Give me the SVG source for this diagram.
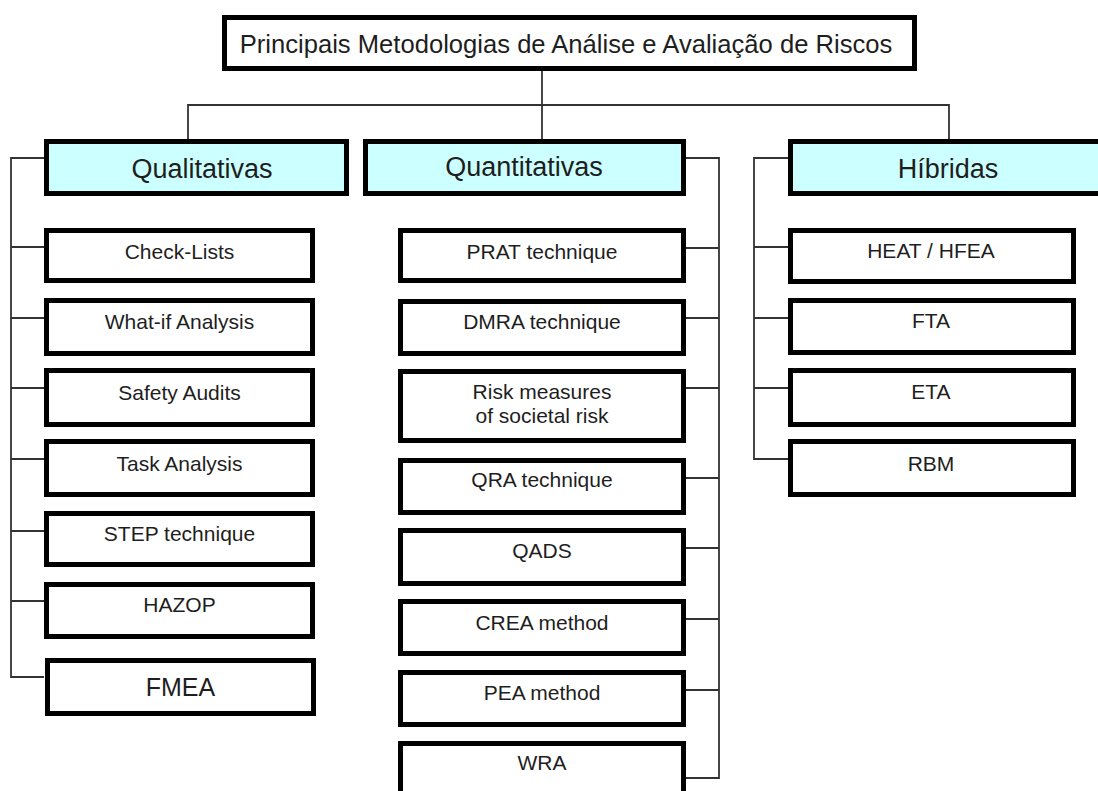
<svg xmlns="http://www.w3.org/2000/svg" width="1098" height="791" viewBox="0 0 1098 791">
<style>
.box{fill:#ffffff;stroke:#000000;stroke-width:5}
.hdr{fill:#ccffff;stroke:#000000;stroke-width:5}
.t{font-family:"Liberation Sans",Arial,sans-serif;fill:#1e1e1e;text-anchor:middle}
.title{font-size:25.6px}
.h{font-size:27px}
.c{font-size:21px}
.big{font-size:25px}
.ln{stroke:#333333;stroke-width:1.8;fill:none}
</style>
<rect x="0" y="0" width="1098" height="791" fill="#ffffff"/>
<g id="connectors">
<path class="ln" d="M542 71V139M188 139V105H949V139"/>
<path class="ln" d="M44 158H11V677H44M11 247H44M11 318H44M11 388H44M11 459H44M11 531H44M11 601H44"/>
<path class="ln" d="M686 158H719V778H686M686 248H719M686 318H719M686 388H719M686 478H719M686 548H719M686 619H719M686 690H719"/>
<path class="ln" d="M788 158H754V459H788M754 247H788M754 318H788M754 388H788"/>
</g>
<g id="title"><rect class="box" x="224.5" y="17.5" width="690" height="51"/><text class="t title" x="566" y="53">Principais Metodologias de Análise e Avaliação de Riscos</text></g>
<g id="qualitativas"><rect class="hdr" x="46.5" y="141.5" width="300" height="52"/><text class="t h" x="202" y="178">Qualitativas</text></g>
<g id="quantitativas"><rect class="hdr" x="365.5" y="141.5" width="318" height="52"/><text class="t h" x="524" y="176">Quantitativas</text></g>
<g id="hibridas"><rect class="hdr" x="790.5" y="141.5" width="330" height="52"/><text class="t h" x="948" y="178">Híbridas</text></g>
<g id="check-lists"><rect class="box" x="46.5" y="230.5" width="266" height="50"/><text class="t c" x="179.5" y="259">Check-Lists</text></g>
<g id="what-if"><rect class="box" x="46.5" y="300.5" width="266" height="53"/><text class="t c" x="179.5" y="329">What-if Analysis</text></g>
<g id="safety-audits"><rect class="box" x="46.5" y="370.5" width="266" height="54"/><text class="t c" x="179.5" y="400">Safety Audits</text></g>
<g id="task-analysis"><rect class="box" x="46.5" y="441.5" width="266" height="53"/><text class="t c" x="179.5" y="471">Task Analysis</text></g>
<g id="step"><rect class="box" x="46.5" y="513.5" width="266" height="51"/><text class="t c" x="179.5" y="541">STEP technique</text></g>
<g id="hazop"><rect class="box" x="46.5" y="584.5" width="266" height="52"/><text class="t c" x="179.5" y="612">HAZOP</text></g>
<g id="fmea"><rect class="box" x="47.5" y="660.5" width="266" height="53"/><text class="t big" x="180.5" y="696">FMEA</text></g>
<g id="prat"><rect class="box" x="400.5" y="230.5" width="283" height="50"/><text class="t c" x="542" y="259">PRAT technique</text></g>
<g id="dmra"><rect class="box" x="400.5" y="301.5" width="283" height="52"/><text class="t c" x="542" y="329">DMRA technique</text></g>
<g id="risk-measures"><rect class="box" x="400.5" y="371.5" width="283" height="69"/><text class="t c" x="542" y="399">Risk measures</text><text class="t c" x="542" y="423">of societal risk</text></g>
<g id="qra"><rect class="box" x="400.5" y="460.5" width="283" height="52"/><text class="t c" x="542" y="487">QRA technique</text></g>
<g id="qads"><rect class="box" x="400.5" y="530.5" width="283" height="53"/><text class="t c" x="542" y="558">QADS</text></g>
<g id="crea"><rect class="box" x="400.5" y="601.5" width="283" height="52"/><text class="t c" x="542" y="630">CREA method</text></g>
<g id="pea"><rect class="box" x="400.5" y="672.5" width="283" height="52"/><text class="t c" x="542" y="700">PEA method</text></g>
<g id="wra"><rect class="box" x="400.5" y="743.5" width="283" height="60"/><text class="t c" x="542" y="770">WRA</text></g>
<g id="heat-hfea"><rect class="box" x="790.5" y="230.5" width="283" height="51"/><text class="t c" x="931" y="258">HEAT / HFEA</text></g>
<g id="fta"><rect class="box" x="790.5" y="300.5" width="283" height="52"/><text class="t c" x="931" y="328">FTA</text></g>
<g id="eta"><rect class="box" x="790.5" y="370.5" width="283" height="54"/><text class="t c" x="931" y="399">ETA</text></g>
<g id="rbm"><rect class="box" x="790.5" y="441.5" width="283" height="53"/><text class="t c" x="931" y="471">RBM</text></g>
</svg>
